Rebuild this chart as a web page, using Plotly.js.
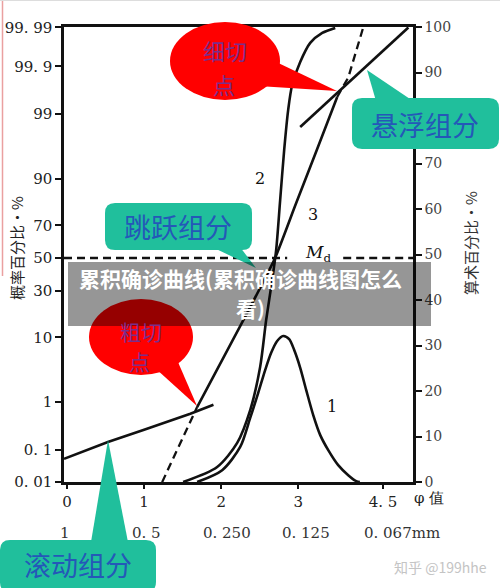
<!DOCTYPE html>
<html><head><meta charset="utf-8">
<script src="https://cdn.plot.ly/plotly-3.0.1.min.js"></script>
<style>html,body{margin:0;padding:0;background:#fff}#chart{width:500px;height:588px}</style>
</head><body><div id="chart"></div>
<script>
// ---------------- data ----------------
const phiTicks = [0, 1, 2, 3, 4.1];
const phiTickText = ['0', '1', '2', '3', '4. 5'];
const mmLabels = ['1', '0. 5', '0. 250', '0. 125', '0. 067mm'];
const probTicks = [0.01, 0.1, 1, 10, 30, 50, 70, 90, 99, 99.9, 99.99];
const probTickText = ['0. 01', '0. 1', '1', '10', '30', '50', '70', '90', '99', '99. 9', '99. 99'];
const arithTicks = [0, 10, 20, 30, 40, 50, 60, 70, 80, 90, 100];

// curve 3 : cumulative probability curve (probability %), three segments
const tractionPhi = [-0.04, 0.53, 1.0, 1.6, 1.9];
const tractionPct = [0.06, 0.15, 0.28, 0.6, 0.9];
const saltLowPhi = [1.234, 1.688];
const saltLowPct = [0.015, 0.81];
const saltPhi = [1.688, 2.338, 2.70, 2.96, 3.24, 3.506];
const saltPct = [0.81, 18.8, 50, 80, 95.9, 99.53];
const saltHighPhi = [3.506, 3.65, 3.844];
const saltHighPct = [99.53, 99.82, 99.99];
const suspPhi = [3.026, 3.52, 4.43];
const suspPct = [98.27, 99.63, 99.99];

// curve 2 : cumulative curve (arithmetic %)
const cumPhi = [1.506, 1.948, 2.208, 2.377, 2.506, 2.584, 2.662, 2.714, 2.766, 2.818, 2.870, 2.922, 3.026, 3.156, 3.312, 3.481];
const cumPct = [0, 3.3, 8.6, 15.8, 25.3, 35.6, 44.4, 51.0, 62.0, 73.0, 81.8, 87.3, 92.3, 96.5, 98.7, 99.8];

// curve 1 : frequency curve (arithmetic %)
const freqPhi = [1.688, 2.013, 2.247, 2.377, 2.481, 2.571, 2.649, 2.727, 2.805, 2.883, 2.948, 3.026, 3.104, 3.195, 3.286, 3.390, 3.519, 3.649, 3.753, 3.80];
const freqPct = [0, 2.6, 7.7, 14.1, 19.6, 24.6, 28.4, 31.0, 32.1, 31.4, 29.0, 25.1, 20.2, 14.7, 10.3, 7.0, 3.7, 1.5, 0.2, 0];

// median (Md) 50% line
const medianLeftPhi = [-0.04, 2.857];
const medianRightPhi = [3.584, 4.49];
const medianPct = 50;

// ---------------- helpers ----------------
function probit(p) {
  const a=[-3.969683028665376e+01,2.209460984245205e+02,-2.759285104469687e+02,1.383577518672690e+02,-3.066479806614716e+01,2.506628277459239e+00];
  const b=[-5.447609879822406e+01,1.615858368580409e+02,-1.556989798598866e+02,6.680131188771972e+01,-1.328068155288572e+01];
  const c=[-7.784894002430293e-03,-3.223964580411365e-01,-2.400758277161838e+00,-2.549732539343734e+00,4.374664141464968e+00,2.938163982698783e+00];
  const d=[7.784695709041462e-03,3.224671290700398e-01,2.445134137142996e+00,3.754408661907416e+00];
  const pl=0.02425, ph=1-pl; let q, r;
  if (p < pl) { q=Math.sqrt(-2*Math.log(p)); return (((((c[0]*q+c[1])*q+c[2])*q+c[3])*q+c[4])*q+c[5])/((((d[0]*q+d[1])*q+d[2])*q+d[3])*q+1); }
  if (p <= ph) { q=p-0.5; r=q*q; return (((((a[0]*r+a[1])*r+a[2])*r+a[3])*r+a[4])*r+a[5])*q/(((((b[0]*r+b[1])*r+b[2])*r+b[3])*r+b[4])*r+1); }
  q=Math.sqrt(-2*Math.log(1-p)); return -(((((c[0]*q+c[1])*q+c[2])*q+c[3])*q+c[4])*q+c[5])/((((d[0]*q+d[1])*q+d[2])*q+d[3])*q+1);
}
const Z = pct => probit(pct / 100);
const zs = arr => arr.map(Z);

const Y_MIN = -3.613, Y_MAX = 3.726;
const L = 64, R = 413, T = 27, B = 482;
const PX = x => (x - L) / (R - L);
const PY = y => (B - y) / (B - T);
const pt = (x, y) => PX(x).toFixed(4) + ',' + PY(y).toFixed(4);
function roundRect(x0, y0, x1, y1, r) {
  return 'M' + pt(x0 + r, y0) + ' L' + pt(x1 - r, y0) + ' Q' + pt(x1, y0) + ' ' + pt(x1, y0 + r) +
    ' L' + pt(x1, y1 - r) + ' Q' + pt(x1, y1) + ' ' + pt(x1 - r, y1) +
    ' L' + pt(x0 + r, y1) + ' Q' + pt(x0, y1) + ' ' + pt(x0, y1 - r) +
    ' L' + pt(x0, y0 + r) + ' Q' + pt(x0, y0) + ' ' + pt(x0 + r, y0) + ' Z';
}
const tri = (a, b, c) => 'M' + pt(a[0], a[1]) + ' L' + pt(b[0], b[1]) + ' L' + pt(c[0], c[1]) + ' Z';

// ---------------- traces ----------------
const INK = '#111111';
const solid = { color: INK, width: 2.6 };
const dashed = { color: INK, width: 2.3, dash: '8px,5px' };
const traces = [
  { x: tractionPhi, y: zs(tractionPct), mode: 'lines', line: solid },
  { x: saltLowPhi, y: zs(saltLowPct), mode: 'lines', line: dashed },
  { x: saltPhi, y: zs(saltPct), mode: 'lines', line: Object.assign({ shape: 'spline', smoothing: 0.5 }, solid) },
  { x: saltHighPhi, y: zs(saltHighPct), mode: 'lines', line: dashed },
  { x: suspPhi, y: zs(suspPct), mode: 'lines', line: solid },
  { x: medianLeftPhi, y: medianLeftPhi.map(() => Z(medianPct)), mode: 'lines', line: dashed },
  { x: medianRightPhi, y: medianRightPhi.map(() => Z(medianPct)), mode: 'lines', line: dashed },
  { x: cumPhi, y: cumPct, yaxis: 'y2', mode: 'lines', line: Object.assign({ shape: 'spline', smoothing: 0.8 }, solid) },
  { x: freqPhi, y: freqPct, yaxis: 'y2', mode: 'lines', line: Object.assign({ shape: 'spline', smoothing: 0.8 }, solid) }
];

// ---------------- layout ----------------
const serif = 'DejaVu Serif, Liberation Serif, serif';
const cjk = 'Noto Sans CJK SC, sans-serif';
const TEAL = '#20bf9c', RED = '#ff0000', BLUE = '#2458b8', PURPLE = '#7a2e8c';

const shapes = [
  // 细切点
  { type: 'circle', xref: 'paper', yref: 'paper', x0: PX(170), x1: PX(280), y0: PY(100), y1: PY(22), fillcolor: RED, line: { width: 0 }, layer: 'above' },
  { type: 'path', xref: 'paper', yref: 'paper', path: tri([272, 60], [258, 86], [337, 91]), fillcolor: RED, line: { width: 0 }, layer: 'above' },
  // 粗切点
  { type: 'circle', xref: 'paper', yref: 'paper', x0: PX(89), x1: PX(193), y0: PY(375), y1: PY(299), fillcolor: RED, line: { width: 0 }, layer: 'above' },
  { type: 'path', xref: 'paper', yref: 'paper', path: tri([155, 368], [178, 362], [197, 406]), fillcolor: RED, line: { width: 0 }, layer: 'above' },
  // 悬浮组分
  { type: 'path', xref: 'paper', yref: 'paper', path: roundRect(352, 98, 499, 149, 10), fillcolor: TEAL, line: { width: 0 }, layer: 'above' },
  { type: 'path', xref: 'paper', yref: 'paper', path: tri([367, 70], [376, 101], [413, 101]), fillcolor: TEAL, line: { width: 0 }, layer: 'above' },
  // 跳跃组分
  { type: 'path', xref: 'paper', yref: 'paper', path: roundRect(105, 203, 252, 250, 10), fillcolor: TEAL, line: { width: 0 }, layer: 'above' },
  { type: 'path', xref: 'paper', yref: 'paper', path: tri([212, 247], [240, 247], [256, 268]), fillcolor: TEAL, line: { width: 0 }, layer: 'above' },
  // 滚动组分
  { type: 'path', xref: 'paper', yref: 'paper', path: roundRect(0, 540, 156, 592, 10), fillcolor: TEAL, line: { width: 0 }, layer: 'above' },
  { type: 'path', xref: 'paper', yref: 'paper', path: tri([108, 440], [91, 542], [128, 542]), fillcolor: TEAL, line: { width: 0 }, layer: 'above' },
  // title overlay
  { type: 'rect', xref: 'paper', yref: 'paper', x0: PX(68), x1: PX(431), y0: PY(326), y1: PY(262), fillcolor: 'rgba(0,0,0,0.41)', line: { width: 0 }, layer: 'above' },
  // left edge pink line, top border
  { type: 'line', xref: 'paper', yref: 'paper', x0: PX(2.5), x1: PX(2.5), y0: PY(0), y1: PY(276), line: { color: '#eaa0a0', width: 1.5 }, layer: 'above' },
  { type: 'line', xref: 'paper', yref: 'paper', x0: PX(0), x1: PX(500), y0: PY(0.5), y1: PY(0.5), line: { color: '#dddddd', width: 1 }, layer: 'above' }
];

const ann = (x, y, text, font, extra) => Object.assign({ xref: 'paper', yref: 'paper', x: PX(x), y: PY(y), text: text, showarrow: false, font: font, xanchor: 'center', yanchor: 'middle' }, extra || {});
const mmPos = [65, 146, 227, 306, 362];
const annotations = [
  ann(225, 50, '细切', { family: cjk, size: 22, color: PURPLE }),
  ann(224, 84, '点', { family: cjk, size: 22, color: PURPLE }),
  ann(141, 331, '粗切', { family: cjk, size: 21, color: PURPLE }),
  ann(139, 361, '点', { family: cjk, size: 21, color: PURPLE }),
  ann(425, 124, '悬浮组分', { family: cjk, size: 27, color: BLUE }),
  ann(178, 226, '跳跃组分', { family: cjk, size: 27, color: BLUE }),
  ann(78, 564, '滚动组分', { family: cjk, size: 27, color: BLUE }),
  ann(240, 278, '<b>累积确诊曲线(累积确诊曲线图怎么</b>', { family: cjk, size: 21, color: '#ffffff' }),
  ann(250, 308, '<b>看)</b>', { family: cjk, size: 21, color: '#ffffff' }),
  ann(16, 248, '概率百分比·%', { family: cjk, size: 15, color: '#222' }, { textangle: -90 }),
  ann(470, 243, '算术百分比·%', { family: cjk, size: 15, color: '#333' }, { textangle: -90 }),
  ann(429, 498, 'φ 值', { family: serif, size: 15, color: '#222' }),
  ann(440, 567, '知乎 @199hhe', { family: cjk, size: 14, color: '#c4c4c4' }),
  { xref: 'x', yref: 'y2', x: 3.44, y: 16.5, text: '1', showarrow: false, font: { family: serif, size: 16, color: INK } },
  { xref: 'x', yref: 'y2', x: 2.506, y: 66.8, text: '2', showarrow: false, font: { family: serif, size: 16, color: INK } },
  { xref: 'x', yref: 'y2', x: 3.195, y: 58.9, text: '3', showarrow: false, font: { family: serif, size: 16, color: INK } },
  { xref: 'x', yref: 'y2', x: 3.26, y: 50.2, text: '<i>M</i><sub>d</sub>', showarrow: false, font: { family: serif, size: 17, color: INK } }
];
mmLabels.forEach((t, i) => {
  annotations.push(ann(mmPos[i], 533, t, { family: serif, size: 15, color: '#333' }, i === mmLabels.length - 1 ? { xanchor: 'left' } : {}));
});

const axisLine = { showline: true, linecolor: INK, linewidth: 2.6, showgrid: false, zeroline: false, ticks: 'outside', tickcolor: INK, tickwidth: 2, fixedrange: true };
const layout = {
  width: 500, height: 588,
  margin: { l: 64, r: 87, t: 27, b: 106, pad: 0 },
  paper_bgcolor: '#ffffff', plot_bgcolor: '#ffffff',
  showlegend: false,
  xaxis: Object.assign({}, axisLine, {
    range: [-0.04, 4.49], tickvals: phiTicks, ticktext: phiTickText, ticklen: 4, mirror: true,
    tickfont: { family: serif, size: 15, color: '#222' }
  }),
  yaxis: Object.assign({}, axisLine, {
    range: [Y_MIN, Y_MAX], ticklen: 6,
    tickvals: probTicks.map(p => Math.max(Z(p), Y_MIN)), ticktext: probTickText,
    tickfont: { family: serif, size: 15, color: '#222' }
  }),
  yaxis2: Object.assign({}, axisLine, {
    overlaying: 'y', side: 'right', range: [0, 100], ticklen: 6,
    tickvals: arithTicks, ticktext: arithTicks.map(String),
    tickfont: { family: serif, size: 14, color: '#444' }
  }),
  shapes: shapes,
  annotations: annotations
};

Plotly.newPlot('chart', traces, layout, { staticPlot: true, displayModeBar: false });
</script>
</body></html>
